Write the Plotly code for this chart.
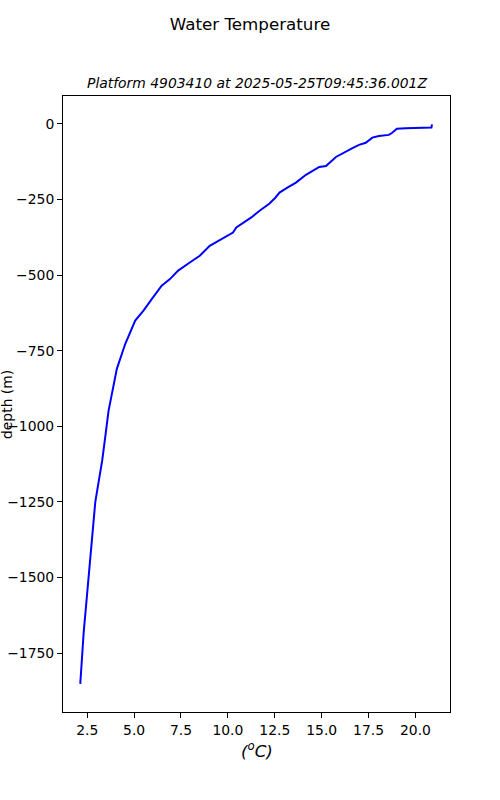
import plotly.graph_objects as go

# Temperature profile (deg C) vs depth (m)
temperature = [20.88, 20.85, 19.47, 19.01, 18.76, 18.58, 18.05, 17.70, 17.35, 16.99,
               16.64, 15.93, 15.76, 15.23, 14.87, 14.16, 13.63, 13.19, 12.75, 12.54,
               12.22, 11.69, 11.25, 10.45, 10.27, 9.03, 8.50, 7.97, 7.35, 6.91,
               6.47, 5.94, 5.50, 5.06, 4.88, 4.53, 4.08, 3.82, 3.64, 3.46,
               3.37, 3.30, 2.93, 2.56, 2.49, 2.31, 2.24, 2.13]
depth = [-1, -12, -14, -16, -29, -36, -40, -45, -62, -69,
         -80, -102, -109, -139, -142, -168, -194, -210, -227, -243,
         -263, -287, -309, -342, -359, -403, -436, -458, -485, -513,
         -535, -579, -617, -650, -678, -727, -810, -892, -948, -1036,
         -1080, -1113, -1251, -1502, -1575, -1684, -1750, -1852]

x_tickvals = [2.5, 5.0, 7.5, 10.0, 12.5, 15.0, 17.5, 20.0]
x_ticktext = ["2.5", "5.0", "7.5", "10.0", "12.5", "15.0", "17.5", "20.0"]
y_tickvals = [0, -250, -500, -750, -1000, -1250, -1500, -1750]
y_ticktext = ["0", "\u2212250", "\u2212500", "\u2212750", "\u22121000", "\u22121250", "\u22121500", "\u22121750"]

main_title = "Water Temperature"
sub_title = "Platform 4903410 at 2025-05-25T09:45:36.001Z"

FONT = "DejaVu Sans"
W, H = 500, 800

axis_common = dict(showline=True, linecolor="black", linewidth=1, mirror=True,
                   ticks="outside", ticklen=5, tickwidth=1, tickcolor="black",
                   showgrid=False, zeroline=False, automargin=False,
                   tickfont=dict(family=FONT, size=13.9, color="black"))

fig = go.Figure()
fig.add_trace(go.Scatter(x=temperature, y=depth, mode="lines",
                         line=dict(color="#0000ff", width=2), showlegend=False))

fig.update_layout(
    width=W, height=H,
    margin=dict(l=63, r=W - 450, t=96, b=H - 712),
    paper_bgcolor="white", plot_bgcolor="white",
    font=dict(family=FONT, color="black"),
    title=dict(text=main_title, x=250 / W, xref="container", xanchor="center",
               y=1 - 24 / H, yref="container", yanchor="middle",
               font=dict(family=FONT, size=16.7, color="black")),
    xaxis=dict(range=[1.21, 21.84], tickvals=x_tickvals, ticktext=x_ticktext, **axis_common),
    yaxis=dict(range=[-1945, 92.6], tickvals=y_tickvals, ticktext=y_ticktext, **axis_common),
)

PW, PH = 387, 616  # plot area size in px (63..450, 96..712)
fig.add_annotation(text="<i>" + sub_title + "</i>", xref="paper", yref="paper",
                   x=0.5, y=(712 - 83) / PH, xanchor="center", yanchor="middle",
                   showarrow=False, font=dict(family=FONT, size=13.9, color="black"))
fig.add_annotation(text="<i>(<sup>o</sup>C)</i>", xref="paper", yref="paper",
                   x=0.5, y=(712 - 750) / PH, xanchor="center", yanchor="middle",
                   showarrow=False, font=dict(family=FONT, size=16.7, color="black"))
fig.add_annotation(text="depth (m)", xref="paper", yref="paper", textangle=-90,
                   x=(7 - 63) / PW, y=(712 - 405) / PH, xanchor="center", yanchor="middle",
                   showarrow=False, font=dict(family=FONT, size=13.9, color="black"))

fig.write_html("out.html",
               config={"displayModeBar": False},
               post_script="document.body.style.margin='0';document.body.style.overflow='hidden';")
